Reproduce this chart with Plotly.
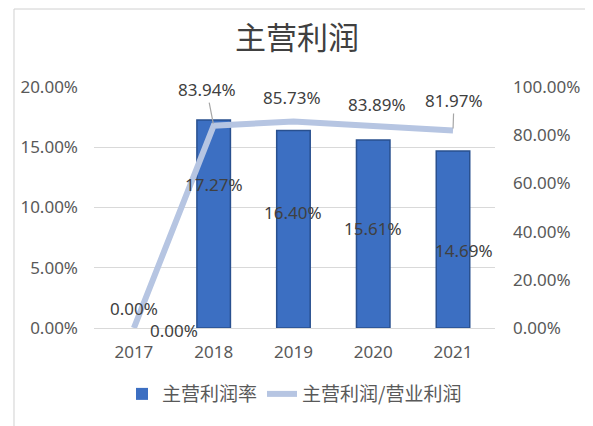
import plotly.graph_objects as go

years = ["2017", "2018", "2019", "2020", "2021"]
margin_rate = [0.0, 0.1727, 0.1640, 0.1561, 0.1469]
main_share = [0.0, 0.8394, 0.8573, 0.8389, 0.8197]

txt = "#404040"
lab_font = dict(size=17, color=txt, family="Noto Sans, sans-serif")
fig = go.Figure()
fig.add_trace(go.Bar(
    x=years, y=margin_rate, name="主营利润率", yaxis="y",
    marker=dict(color="#3c6fc2",
                line=dict(color="#29508f", width=[0 if v == 0 else 1.5 for v in margin_rate])),
    width=0.42,
))
fig.add_trace(go.Scatter(
    x=years, y=main_share, name="主营利润/营业利润", yaxis="y2",
    mode="lines", line=dict(color="#b6c5e2", width=6),
))

# bar value labels (placed inside the bars as in the reference)
bar_dy = [-2, -65, -82, -89, -100]
bar_dx = [40, 0, 0, 0, 11]
for i, v in enumerate(margin_rate):
    fig.add_annotation(x=i, y=v, xref="x", yref="y", text=f"{v*100:.2f}%",
                       showarrow=False, xshift=bar_dx[i], yshift=bar_dy[i],
                       font=lab_font)

# line value labels
line_dy = [20, None, 24, 21, None]
line_dx = [0, 0, -1, 4, 0]
for i, v in enumerate(main_share):
    if i == 1:
        fig.add_annotation(x=i, y=v, xref="x", yref="y2", text=f"{v*100:.2f}%",
                           showarrow=True, arrowhead=0, arrowwidth=1.2,
                           arrowcolor="#a6a6a6", ax=-7, ay=-36, standoff=2,
                           font=lab_font)
    elif i == 4:
        fig.add_annotation(x=i, y=v, xref="x", yref="y2", text=f"{v*100:.2f}%",
                           showarrow=True, arrowhead=0, arrowwidth=1.2,
                           arrowcolor="#a6a6a6", ax=1, ay=-30, standoff=2,
                           font=lab_font)
    else:
        fig.add_annotation(x=i, y=v, xref="x", yref="y2", text=f"{v*100:.2f}%",
                           showarrow=False, yshift=line_dy[i], xshift=line_dx[i],
                           font=lab_font)

tick_font = dict(size=17, color="#595959", family="Noto Sans, sans-serif")
fig.update_layout(
    width=593, height=426,
    margin=dict(l=81, r=106, t=79, b=106),
    paper_bgcolor="white", plot_bgcolor="white",
    font=dict(family="Noto Sans CJK SC, Noto Sans, sans-serif", color="#595959", size=13),
    title=dict(text="主营利润", x=0.4874, xanchor="center", y=0.93, yanchor="middle",
               font=dict(size=31, color=txt)),
    xaxis=dict(type="category", showline=True, linecolor="#d9d9d9", linewidth=1, ticks="",
               tickfont=tick_font, ticklabelstandoff=9),
    yaxis=dict(range=[0, 0.2], tickvals=[0, 0.05, 0.10, 0.15, 0.20], tickformat=".2%",
               showgrid=True, gridcolor="#d9d9d9", gridwidth=1, zeroline=False,
               tickfont=tick_font, ticklabelstandoff=15),
    yaxis2=dict(range=[0, 1.0], tickvals=[0, 0.2, 0.4, 0.6, 0.8, 1.0], tickformat=".2%",
                overlaying="y", side="right", showgrid=False, zeroline=False,
                tickfont=tick_font, ticklabelstandoff=17),
    showlegend=True,
    legend=dict(orientation="h", x=0.5, xanchor="center", y=-0.274, yanchor="middle",
                font=dict(size=19, color="#595959")),
)
fig.add_shape(type="rect", xref="paper", yref="paper",
              x0=-81/406, x1=1+105/406, y0=-105/241, y1=1+78/241,
              line=dict(color="#d0d0d0", width=1), layer="below")

fig.write_html("out.html")
